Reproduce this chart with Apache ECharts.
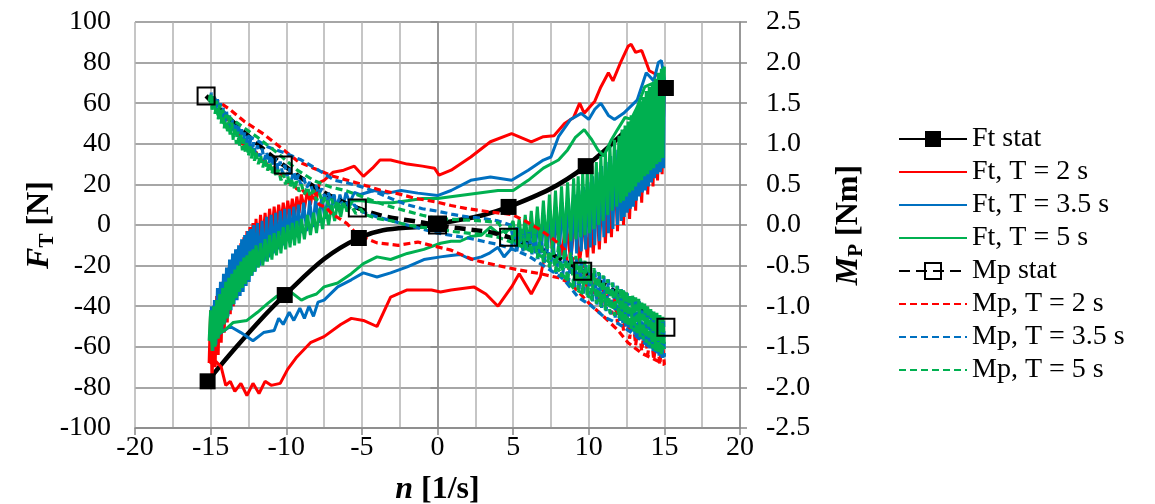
<!DOCTYPE html>
<html><head><meta charset="utf-8">
<script src="https://cdn.jsdelivr.net/npm/echarts@6/dist/echarts.min.js"></script>
<style>html,body{margin:0;padding:0;background:#fff}#c{width:1155px;height:504px}</style>
</head><body><div id="c"></div>
<script>
// ---- data (n [1/s], Ft [N] / Mp [Nm]) ----
const seriesNames = ['Ft stat','Ft, T = 2 s','Ft, T = 3.5 s','Ft, T = 5 s','Mp stat','Mp, T = 2 s','Mp, T = 3.5 s','Mp, T = 5 s'];

const ftStat = [[-15.2,-77],[-10.1,-34.5],[-5.2,-6.4],[0,0.5],[4.7,8.9],[9.8,29],[15.1,67.5]];
const mpStat = [[-15.3,1.59],[-10.2,0.74],[-5.3,0.21],[0,0],[4.7,-0.15],[9.6,-0.57],[15.1,-1.26]];

const ftT2 = [[-15.1,-68],[-15.0,-42],[-14.9,-76],[-14.8,-40],[-14.7,-70],[-14.6,-35],[-14.5,-64],[-14.4,-31],[-14.3,-58],[-14.2,-28],[-14.1,-53],[-14.0,-25],[-13.9,-48],[-13.8,-21],[-13.7,-44],[-13.6,-18],[-13.5,-40],[-13.4,-15],[-13.3,-36],[-13.2,-12],[-13.1,-32],[-13.0,-9],[-12.9,-28],[-12.8,-6],[-12.7,-24],[-12.6,-3],[-12.5,-20],[-12.4,-1],[-12.3,-17],[-12.2,1],[-12.1,-14],[-12.0,3],[-11.85,-11],[-11.7,5],[-11.55,-8],[-11.4,6],[-11.25,-6],[-11.1,8],[-10.95,-4],[-10.8,9],[-10.65,-2],[-10.5,10],[-10.35,0],[-10.2,11],[-10.05,1],[-9.9,12],[-9.75,3],[-9.6,13],[-9.45,4],[-9.3,14],[-9.15,6],[-9.0,15],[-8.8,8],[-8.6,17],[-8.4,10],[-8.2,19],[-8.0,13],[-7.8,21],[-7.5,22],
[-6.9,26],[-6.2,27],[-5.5,29],[-4.9,24],[-4.3,28],[-3.8,32],[-3.1,32],[-2,30],[-1,29],[-0.2,28],[0.1,24.6],[0.9,27],[2.2,33.5],[3.5,41],[4.9,45],[6.2,41],[7,43.5],[7.7,44],[8.4,50],[9,53],[9.4,60],[9.7,55],[10.4,61],[10.8,68],[11.3,75],[11.6,71],[12.1,80],[12.6,88],[12.8,89],[13.1,85],[13.5,86],[13.8,80],[14,76],[14.5,74],[15,70],
[14.85,25],[14.7,66],[14.55,22],[14.4,62],[14.25,19],[14.1,58],[13.9,15],[13.7,53],[13.5,11],[13.3,48],[13.1,7],[12.9,44],[12.7,3],[12.5,40],[12.3,0],[12.1,35],[11.9,-3],[11.7,30],[11.5,-6],[11.3,25],[11.1,-9],[10.9,20],[10.7,-12],[10.5,14],[10.3,-14],[10.1,5],[9.9,-16],[9.7,2],[9.4,-18],[9.1,3],[8.8,-17],[8.5,1],[8.2,-15],[7.9,0],[7.6,-12],[7.4,1],
[7.2,-11],[6.8,-25.6],[6.2,-34],[5.4,-24],[4.9,-30.5],[4,-40],[3.2,-34],[2.4,-30.5],[0.9,-32],[0.2,-33],[-0.4,-32],[-2,-32],[-3.1,-35.5],[-4,-50],[-4.9,-47],[-5.7,-46],[-6.4,-49],[-7.5,-55],[-8.4,-58],[-9.3,-65],[-9.9,-71],[-10.4,-78],[-11,-79],[-11.4,-77],[-11.8,-83],[-12.2,-78],[-12.6,-84],[-13,-78],[-13.4,-82],[-13.7,-77],[-14,-79],[-14.3,-70],[-14.8,-66],[-15.1,-68]];

const ftT35 = [[-15.0,-57],[-14.95,-40],[-14.85,-62],[-14.75,-37],[-14.65,-59],[-14.55,-31],[-14.45,-55],[-14.35,-28],[-14.25,-52],[-14.15,-24],[-14.05,-48],[-13.95,-21],[-13.85,-45],[-13.75,-17],[-13.65,-42],[-13.55,-14],[-13.45,-39],[-13.35,-12],[-13.25,-37],[-13.15,-10],[-13.05,-35],[-12.95,-7],[-12.85,-33],[-12.75,-5],[-12.65,-30],[-12.55,-3],[-12.45,-28],[-12.35,-2],[-12.25,-25],[-12.15,0],[-12.05,-23],[-11.9,1],[-11.75,-20],[-11.6,2],[-11.45,-18],[-11.3,4],[-11.15,-16],[-11.0,5],[-10.85,-14],[-10.7,6],[-10.55,-12],[-10.4,7],[-10.25,-10],[-10.1,8],[-9.95,-8],[-9.8,8],[-9.65,-7],[-9.5,9],[-9.35,-6],[-9.2,10],[-9.05,-4],[-8.85,11],[-8.65,-3],[-8.45,12],[-8.25,-1],[-8.05,13],[-7.85,1],[-7.65,14],[-7.45,3],[-7.25,14],[-7.05,5],[-6.85,15],[-6.65,7],[-6.45,15],[-6.25,9],[-6.05,16],[-5.8,11],[-5.5,16],[-5.1,15],
[-4.2,17],[-3.3,15.7],[-2.4,17],[-1.3,15.7],[0,14.5],[0.9,17],[2.2,22],[3.5,23.6],[4.9,22],[6,27],[7,32],[7.5,33.5],[8,43.5],[8.8,52],[9.5,55],[10,52],[10.4,57],[10.8,60],[11.3,54],[11.7,52],[12.3,55],[13.2,61.5],[13.8,75],[14.3,71],[14.6,80],[14.8,81],[15,72],
[14.95,28],[14.85,72],[14.75,26],[14.65,69],[14.55,25],[14.45,67],[14.35,23],[14.25,65],[14.15,21],[14.05,63],[13.95,19],[13.85,61],[13.75,17],[13.65,58],[13.55,16],[13.45,56],[13.35,14],[13.25,53],[13.15,12],[13.05,51],[12.95,9],[12.85,48],[12.75,8],[12.65,46],[12.55,6],[12.45,44],[12.35,4],[12.25,42],[12.15,2],[12.05,40],[11.9,0],[11.75,37],[11.6,-2],[11.45,34],[11.3,-4],[11.15,31],[11.0,-6],[10.85,29],[10.7,-8],[10.55,26],[10.4,-10],[10.25,24],[10.1,-11],[9.95,21],[9.8,-12],[9.65,19],[9.5,-13],[9.35,17],[9.2,-14],[9.05,15],[8.85,-15],[8.65,13],[8.45,-15],[8.25,11],[8.05,-15],[7.85,9],[7.65,-15],[7.45,7],[7.25,-14],[7.05,5],[6.85,-14],[6.65,3],[6.45,-14],[6.25,1],[6.05,-13],[5.85,-1],[5.65,-13],[5.45,-3],[5.25,-13],[5.05,-5],[4.85,-12],
[4.4,-15.7],[4,-11],[3.4,-14],[2.9,-15.7],[2.2,-17],[1.5,-14.5],[0.9,-15],[0.2,-15.7],[-0.9,-17],[-2,-20.6],[-3.1,-23.6],[-4,-25.6],[-4.9,-23.6],[-5.7,-27],[-6.6,-30.5],[-7.5,-37],[-7.9,-38],[-8.2,-45],[-8.5,-40],[-8.8,-46],[-9.1,-41],[-9.5,-47],[-9.8,-43],[-10.2,-49],[-10.5,-46],[-10.8,-52],[-11.5,-53],[-12.2,-57],[-13,-53],[-13.7,-50],[-14.3,-53],[-15,-57]];

const ftT5 = [[-15.1,-57],[-15.0,-42],[-14.9,-62],[-14.8,-40],[-14.7,-60],[-14.6,-37],[-14.5,-56],[-14.4,-34],[-14.3,-53],[-14.2,-31],[-14.1,-49],[-14.0,-28],[-13.9,-46],[-13.8,-26],[-13.7,-42],[-13.6,-24],[-13.5,-39],[-13.4,-22],[-13.3,-36],[-13.2,-20],[-13.1,-33],[-13.0,-18],[-12.9,-31],[-12.8,-16],[-12.7,-29],[-12.6,-15],[-12.5,-27],[-12.4,-13],[-12.3,-25],[-12.2,-12],[-12.1,-23],[-12.0,-10],[-11.85,-21],[-11.7,-9],[-11.55,-20],[-11.4,-7],[-11.25,-18],[-11.1,-5],[-10.95,-17],[-10.8,-4],[-10.65,-15],[-10.5,-3],[-10.35,-14],[-10.2,-1],[-10.05,-12],[-9.9,0],[-9.75,-11],[-9.6,1],[-9.45,-10],[-9.3,2],[-9.15,-9],[-9.0,3],[-8.8,-7],[-8.6,5],[-8.4,-5],[-8.2,6],[-8.0,-4],[-7.8,8],[-7.6,-2],[-7.4,9],[-7.2,0],[-7.0,10],[-6.8,2],[-6.6,11],[-6.4,4],[-6.2,12],[-6.0,7],[-5.6,12],
[-5,12],[-4,11],[-3,11],[-2,12],[-1,13],[0,13],[1,14],[2,15],[3,16],[4,17],[5,17],[6,22],[7,28],[8,32],[8.6,37],[9.1,43],[9.7,47],[10.2,42],[10.6,37],[11,34],[11.5,42],[11.9,47],[12.4,53],[12.8,52],[13.2,58],[13.7,68],[14.3,70],[14.8,73],[15,78],
[14.9,33],[14.8,77],[14.7,31],[14.6,75],[14.5,30],[14.4,72],[14.3,28],[14.2,70],[14.1,27],[14.0,68],[13.9,25],[13.8,66],[13.7,24],[13.6,63],[13.5,22],[13.4,61],[13.3,21],[13.2,58],[13.1,19],[13.0,55],[12.9,17],[12.8,54],[12.7,16],[12.6,51],[12.5,14],[12.4,49],[12.3,12],[12.2,47],[12.1,11],[12.0,44],[11.85,9],[11.7,42],[11.55,7],[11.4,39],[11.25,5],[11.1,36],[10.95,2],[10.8,34],[10.65,0],[10.5,31],[10.35,-2],[10.2,29],[10.05,-4],[9.9,27],[9.75,-5],[9.6,26],[9.45,-6],[9.3,24],[9.15,-7],[9.0,23],[8.8,-8],[8.6,21],[8.4,-9],[8.2,19],[8.0,-10],[7.8,17],[7.6,-10],[7.4,15],[7.2,-11],[7.0,12],[6.8,-11],[6.6,9],[6.4,-11],[6.2,7],[6.0,-11],[5.8,5],[5.6,-10],[5.4,3],[5.2,-9],[5.0,2],
[4.7,-2.5],[4,-4],[3.5,-1],[2.9,-5],[2.2,-5.6],[1.5,-8],[0.9,-8],[0.2,-9],[-0.9,-12],[-2,-14],[-3.1,-17],[-4,-15.7],[-4.9,-19],[-5.7,-24],[-6.6,-28.6],[-7.5,-30.5],[-8,-34],[-8.6,-35.5],[-9,-37],[-9.7,-33],[-10.2,-37],[-10.6,-35],[-11.2,-38.5],[-11.9,-43],[-12.6,-47],[-13.5,-48],[-14.1,-52],[-14.8,-55],[-15.1,-57]];

const mpT2 = [[-15.0,1.58],[-14.85,1.48],[-14.7,1.53],[-14.5,1.38],[-14.3,1.43],[-14.1,1.28],[-13.9,1.32],[-13.7,1.18],[-13.5,1.22],[-13.3,1.08],[-13.1,1.12],[-12.9,0.99],[-12.6,1.02],[-12.3,0.88],[-12.0,0.9],[-11.7,0.78],[-11.4,0.8],[-11.1,0.69],[-10.8,0.71],[-10.5,0.6],[-10.2,0.62],[-9.9,0.52],[-9.6,0.53],[-9.3,0.44],[-9.0,0.45],[-8.6,0.35],[-8.2,0.34],[-7.8,0.25],[-7.4,0.22],[-7.0,0.14],[-6.5,0.08],[-6.0,0.02],[-5.5,-0.08],
[-4.9,-0.15],[-4,-0.22],[-2.6,-0.25],[-1.3,-0.21],[0,-0.27],[0.9,-0.31],[2.4,-0.43],[4,-0.5],[5.3,-0.55],[6.8,-0.6],[8,-0.65],[8.8,-0.72],[10,-0.96],[11,-1.13],[11.9,-1.29],[12.6,-1.45],[13.5,-1.58],[14.3,-1.65],[15,-1.72],
[14.85,-1.4],[14.7,-1.72],[14.5,-1.36],[14.3,-1.66],[14.1,-1.32],[13.9,-1.6],[13.7,-1.27],[13.5,-1.55],[13.3,-1.2],[13.1,-1.48],[12.9,-1.12],[12.7,-1.4],[12.5,-1.04],[12.3,-1.3],[12.1,-0.96],[11.9,-1.2],[11.7,-0.88],[11.5,-1.1],[11.3,-0.8],[11.1,-1.0],[10.9,-0.72],[10.7,-0.92],[10.5,-0.64],[10.3,-0.85],[10.1,-0.56],[9.9,-0.78],[9.6,-0.48],[9.3,-0.68],[9.0,-0.4],[8.7,-0.55],[8.4,-0.3],
[7.7,-0.18],[6.8,-0.06],[5.7,0.06],[4.9,0.13],[3.5,0.16],[2,0.2],[0.9,0.24],[0,0.28],[-1.5,0.33],[-2.5,0.38],[-3.8,0.43],[-5,0.5],[-6.9,0.6],[-8.2,0.7],[-9.2,0.78],[-10,0.9],[-11.5,1.12],[-12.8,1.28],[-13.7,1.42],[-14.5,1.52],[-15,1.58]];

const mpT35 = [[-15.0,1.55],[-14.95,1.63],[-14.85,1.47],[-14.75,1.6],[-14.65,1.42],[-14.55,1.55],[-14.45,1.37],[-14.35,1.5],[-14.25,1.32],[-14.15,1.45],[-14.05,1.27],[-13.95,1.4],[-13.85,1.22],[-13.75,1.35],[-13.65,1.17],[-13.55,1.3],[-13.45,1.13],[-13.35,1.26],[-13.25,1.09],[-13.15,1.22],[-13.05,1.05],[-12.95,1.18],[-12.85,1.01],[-12.75,1.14],[-12.65,0.98],[-12.55,1.1],[-12.45,0.95],[-12.35,1.06],[-12.25,0.91],[-12.15,1.02],[-12.05,0.88],[-11.9,0.98],[-11.75,0.84],[-11.6,0.94],[-11.45,0.8],[-11.3,0.9],[-11.15,0.76],[-11.0,0.86],[-10.85,0.72],[-10.7,0.82],[-10.55,0.68],[-10.4,0.78],[-10.25,0.64],[-10.1,0.74],[-9.95,0.6],[-9.8,0.7],[-9.65,0.56],[-9.5,0.66],[-9.35,0.53],[-9.2,0.62],[-9.05,0.5],[-8.85,0.58],[-8.65,0.46],[-8.45,0.53],[-8.25,0.42],[-8.05,0.49],[-7.85,0.38],[-7.65,0.45],[-7.45,0.34],[-7.25,0.41],[-7.05,0.3],[-6.85,0.37],[-6.65,0.27],[-6.45,0.33],[-6.25,0.24],[-6.05,0.3],[-5.8,0.21],[-5.5,0.25],[-5.2,0.18],[-4.8,0.15],
[-4,0.1],[-3,0.05],[-2,0.0],[-1,-0.05],[0,-0.1],[1,-0.13],[2,-0.16],[3,-0.2],[4,-0.24],[5,-0.3],[6,-0.38],[7,-0.5],[8,-0.62],[8.4,-0.68],[9.3,-0.89],[10.2,-1.0],[11,-1.13],[12,-1.22],[13,-1.35],[14,-1.5],[15,-1.62],
[14.95,-1.18],[14.85,-1.64],[14.75,-1.15],[14.65,-1.61],[14.55,-1.12],[14.45,-1.58],[14.35,-1.09],[14.25,-1.55],[14.15,-1.06],[14.05,-1.52],[13.95,-1.03],[13.85,-1.48],[13.75,-1.0],[13.65,-1.45],[13.55,-0.97],[13.45,-1.42],[13.35,-0.94],[13.25,-1.38],[13.15,-0.92],[13.05,-1.35],[12.95,-0.89],[12.85,-1.31],[12.75,-0.87],[12.65,-1.28],[12.55,-0.84],[12.45,-1.25],[12.35,-0.82],[12.25,-1.21],[12.15,-0.79],[12.05,-1.18],[11.9,-0.75],[11.75,-1.14],[11.6,-0.71],[11.45,-1.1],[11.3,-0.67],[11.15,-1.06],[11.0,-0.63],[10.85,-1.02],[10.7,-0.59],[10.55,-0.98],[10.4,-0.55],[10.25,-0.94],[10.1,-0.51],[9.95,-0.9],[9.8,-0.47],[9.65,-0.86],[9.5,-0.43],[9.35,-0.82],[9.2,-0.4],[9.05,-0.78],[8.85,-0.36],[8.65,-0.72],[8.45,-0.32],[8.25,-0.66],[8.05,-0.28],[7.85,-0.6],[7.65,-0.24],[7.45,-0.54],[7.25,-0.2],[7.05,-0.48],[6.85,-0.16],[6.65,-0.42],[6.45,-0.12],[6.25,-0.36],[6.05,-0.09],[5.85,-0.3],[5.65,-0.06],[5.45,-0.25],[5.25,-0.03],[5.05,-0.19],[4.8,0.0],
[4,0.05],[3,0.08],[2,0.1],[1,0.13],[0,0.17],[-1,0.2],[-2,0.25],[-3,0.32],[-4,0.4],[-5,0.47],[-6,0.52],[-6.8,0.55],[-7.9,0.68],[-9,0.8],[-10,0.88],[-11.2,0.96],[-12,1.05],[-13,1.13],[-14.3,1.33],[-15,1.55]];

const mpT5 = [[-15.1,1.52],[-15.0,1.63],[-14.9,1.42],[-14.8,1.58],[-14.7,1.37],[-14.6,1.53],[-14.5,1.3],[-14.4,1.48],[-14.3,1.25],[-14.2,1.42],[-14.1,1.19],[-14.0,1.36],[-13.9,1.14],[-13.8,1.31],[-13.7,1.09],[-13.6,1.26],[-13.5,1.04],[-13.4,1.2],[-13.3,1.0],[-13.2,1.15],[-13.1,0.96],[-13.0,1.11],[-12.9,0.92],[-12.8,1.06],[-12.7,0.89],[-12.6,1.02],[-12.5,0.85],[-12.4,0.98],[-12.3,0.82],[-12.2,0.94],[-12.1,0.79],[-12.0,0.9],[-11.85,0.75],[-11.7,0.86],[-11.55,0.71],[-11.4,0.82],[-11.25,0.67],[-11.1,0.78],[-10.95,0.63],[-10.8,0.73],[-10.65,0.59],[-10.5,0.68],[-10.35,0.55],[-10.2,0.64],[-10.05,0.5],[-9.9,0.6],[-9.75,0.47],[-9.6,0.57],[-9.45,0.44],[-9.3,0.54],[-9.15,0.41],[-9.0,0.5],[-8.8,0.38],[-8.6,0.47],[-8.4,0.35],[-8.2,0.43],[-8.0,0.3],[-7.8,0.39],[-7.6,0.27],[-7.4,0.35],[-7.2,0.24],[-7.0,0.32],[-6.8,0.21],[-6.6,0.3],[-6.4,0.19],[-6.2,0.27],[-6.0,0.17],[-5.7,0.24],[-5.4,0.14],[-5.1,0.2],[-4.8,0.13],
[-4,0.08],[-3,0.05],[-2,0.0],[-1,-0.03],[0,-0.05],[1,-0.08],[2,-0.1],[3,-0.12],[4,-0.15],[5,-0.22],[6,-0.3],[7,-0.4],[8,-0.55],[9,-0.78],[10,-0.88],[11,-0.95],[12,-1.06],[13,-1.22],[14,-1.38],[15,-1.52],
[14.9,-1.13],[14.8,-1.6],[14.7,-1.11],[14.6,-1.57],[14.5,-1.08],[14.4,-1.55],[14.3,-1.05],[14.2,-1.52],[14.1,-1.02],[14.0,-1.48],[13.9,-0.99],[13.8,-1.45],[13.7,-0.96],[13.6,-1.41],[13.5,-0.93],[13.4,-1.38],[13.3,-0.91],[13.2,-1.35],[13.1,-0.89],[13.0,-1.31],[12.9,-0.87],[12.8,-1.28],[12.7,-0.85],[12.6,-1.25],[12.5,-0.82],[12.4,-1.22],[12.3,-0.8],[12.2,-1.19],[12.1,-0.78],[12.0,-1.15],[11.85,-0.75],[11.7,-1.12],[11.55,-0.71],[11.4,-1.09],[11.25,-0.67],[11.1,-1.05],[10.95,-0.62],[10.8,-1.01],[10.65,-0.58],[10.5,-0.97],[10.35,-0.53],[10.2,-0.93],[10.05,-0.47],[9.9,-0.88],[9.75,-0.44],[9.6,-0.84],[9.45,-0.41],[9.3,-0.8],[9.15,-0.38],[9.0,-0.75],[8.8,-0.34],[8.6,-0.7],[8.4,-0.3],[8.2,-0.64],[8.0,-0.26],[7.8,-0.58],[7.6,-0.22],[7.4,-0.52],[7.2,-0.17],[7.0,-0.46],[6.8,-0.14],[6.6,-0.41],[6.4,-0.1],[6.2,-0.36],[6.0,-0.08],[5.8,-0.31],[5.6,-0.05],[5.4,-0.26],[5.2,-0.03],[5.0,-0.2],[4.8,-0.01],[4.5,-0.1],
[4,0.03],[3,0.05],[2,0.06],[1,0.07],[0,0.08],[-1,0.12],[-2,0.17],[-3,0.22],[-4,0.28],[-5,0.35],[-6,0.42],[-7.1,0.47],[-8.2,0.55],[-9.3,0.68],[-10.6,0.89],[-11.9,1.08],[-13.5,1.29],[-14.5,1.42],[-15.1,1.52]];

// ---- chart ----
const FONT = 'Liberation Serif';
const RED = '#FF0000', BLUE = '#0070C0', GREEN = '#00B050';
const chart = echarts.init(document.getElementById('c'), null, {renderer: 'canvas'});

function dyn(name, data, color, yIdx, dashed) {
  return {
    name, type: 'line', data, yAxisIndex: yIdx, symbol: 'none', color,
    lineStyle: {color, width: dashed ? 3.2 : 3, type: dashed ? [7, 4] : 'solid'},
    itemStyle: {color}, animation: false, z: 2
  };
}
const nameRich = {
  i: {fontFamily: FONT, fontSize: 32, fontStyle: 'italic', fontWeight: 'bold'},
  s: {fontFamily: FONT, fontSize: 21, fontWeight: 'bold', verticalAlign: 'bottom', padding: [16, 0, 0, 0]},
  b: {fontFamily: FONT, fontSize: 32, fontWeight: 'bold'}
};

const option = {
  animation: false,
  backgroundColor: '#fff',
  grid: {left: 135, right: 415, top: 22, bottom: 76, containLabel: false, outerBoundsMode: 'none'},
  legend: {
    orient: 'vertical', left: 893, top: 120,
    itemWidth: 68, itemHeight: 20, itemGap: 5,
    textStyle: {fontFamily: FONT, fontSize: 28, color: '#000'},
    data: seriesNames.map((n, i) => (i === 0 || i === 4) ? n : {name: n, itemStyle: {opacity: 0}})
  },
  xAxis: {
    type: 'value', min: -20, max: 20, interval: 5,
    name: '{i|n}{b| [1/s]}', nameLocation: 'middle', nameGap: 46,
    nameTextStyle: {fontFamily: FONT, fontSize: 32, fontWeight: 'bold', color: '#000', rich: nameRich},
    axisLine: {show: true, onZero: false, lineStyle: {color: '#888', width: 1.5}},
    axisTick: {show: true, length: 7, lineStyle: {color: '#888', width: 1.5}},
    axisLabel: {fontFamily: FONT, fontSize: 28, color: '#000', margin: 6},
    splitLine: {show: true, lineStyle: {color: '#b3b3b3', width: 1.5}},
    minorTick: {show: false, splitNumber: 2},
    minorSplitLine: {show: true, lineStyle: {color: '#b3b3b3', width: 1.5}}
  },
  yAxis: [{
    type: 'value', min: -100, max: 100, interval: 20, position: 'left',
    name: '{i|F}{s|T}{b| [N]}', nameLocation: 'middle', nameRotate: 90, nameGap: 77,
    nameMoveOverlap: false,
    nameTextStyle: {fontFamily: FONT, fontSize: 32, fontWeight: 'bold', color: '#000', rich: nameRich},
    axisLine: {show: true, lineStyle: {color: '#888', width: 1.5}},
    axisTick: {show: true, length: 7, lineStyle: {color: '#888', width: 1.5}},
    axisLabel: {fontFamily: FONT, fontSize: 28, color: '#000', margin: 24},
    splitLine: {show: true, lineStyle: {color: '#888', width: 1.5}}
  }, {
    type: 'value', min: -2.5, max: 2.5, interval: 0.5, position: 'right',
    name: '{i|M}{s|P}{b| [Nm]}', nameLocation: 'middle', nameRotate: 90, nameGap: 90,
    nameTextStyle: {fontFamily: FONT, fontSize: 32, fontWeight: 'bold', color: '#000', rich: nameRich},
    axisLine: {show: true, lineStyle: {color: '#888', width: 1.5}},
    axisTick: {show: true, length: 7, lineStyle: {color: '#888', width: 1.5}},
    axisLabel: {fontFamily: FONT, fontSize: 28, color: '#000', margin: 26,
      formatter: v => v.toFixed(1)},
    splitLine: {show: false}
  }],
  series: [
    {name: seriesNames[0], type: 'line', data: ftStat, yAxisIndex: 0, smooth: 0.4,
     symbol: 'rect', symbolSize: 16, color: '#000',
     lineStyle: {color: '#000', width: 4.5}, itemStyle: {color: '#000'}, z: 2},
    dyn(seriesNames[1], ftT2, RED, 0, false),
    dyn(seriesNames[2], ftT35, BLUE, 0, false),
    dyn(seriesNames[3], ftT5, GREEN, 0, false),
    {name: seriesNames[4], type: 'line', data: mpStat, yAxisIndex: 1, smooth: 0.4,
     symbol: 'rect', symbolSize: 17, color: '#000',
     lineStyle: {color: '#000', width: 4.5, type: [11, 6]},
     itemStyle: {color: 'rgba(255,255,255,0)', borderColor: '#000', borderWidth: 2}, z: 2},
    dyn(seriesNames[5], mpT2, RED, 1, true),
    dyn(seriesNames[6], mpT35, BLUE, 1, true),
    dyn(seriesNames[7], mpT5, GREEN, 1, true)
  ]
};
chart.setOption(option);
</script></body></html>
